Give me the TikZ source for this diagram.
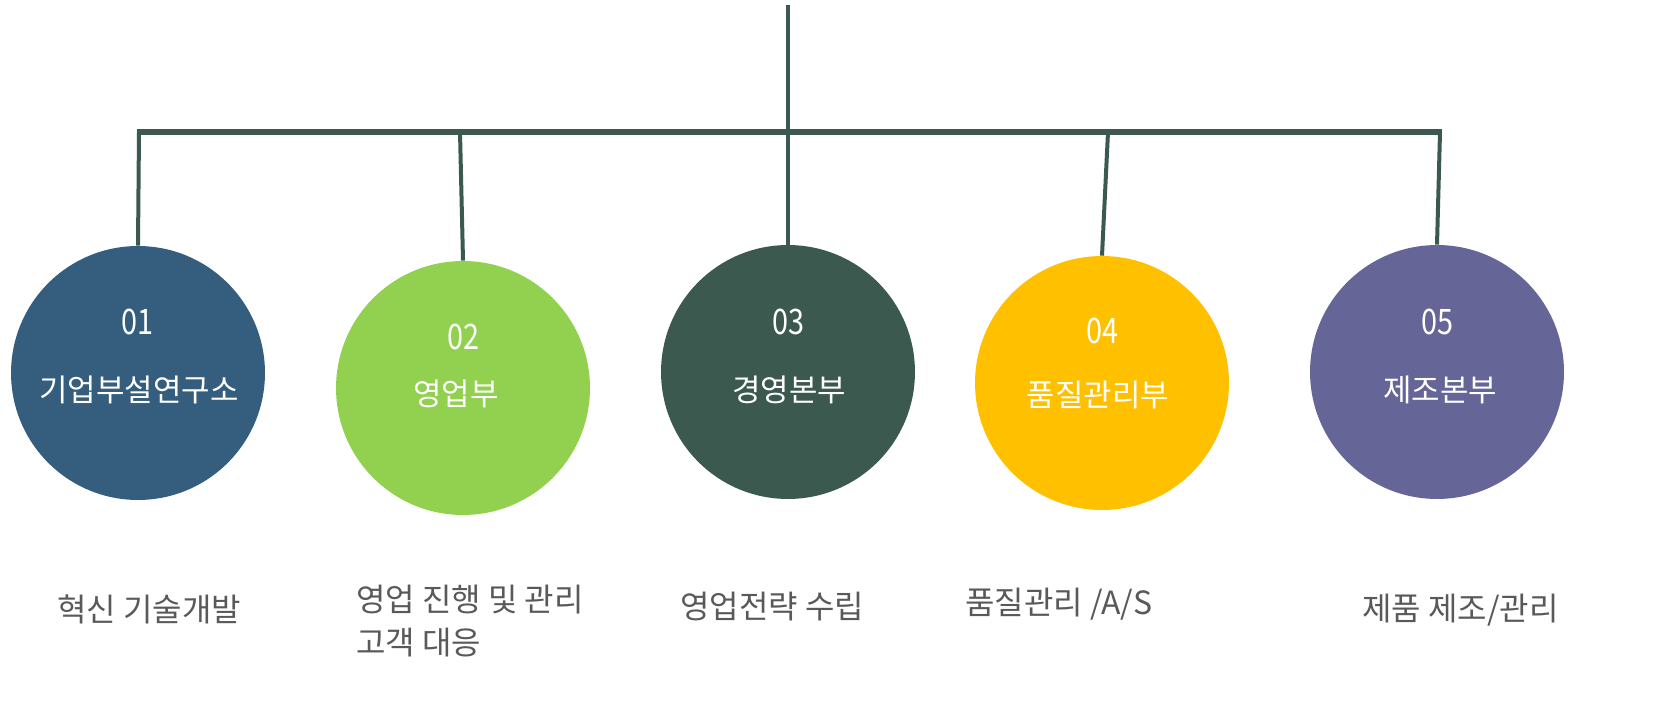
\documentclass[tikz,border=0pt]{standalone}
\usepackage{fontspec}
\setmainfont{Noto Sans CJK KR}
\newfontfamily\condfont[FakeStretch=0.82]{Noto Sans CJK KR}
\definecolor{lineC}{HTML}{3C5950}
\definecolor{cA}{HTML}{355E7E}
\definecolor{cB}{HTML}{92D050}
\definecolor{cC}{HTML}{3C5950}
\definecolor{cD}{HTML}{FFC000}
\definecolor{cE}{HTML}{656597}
\definecolor{txtG}{HTML}{595959}
\tikzset{
  disc/.style={circle, minimum size=5.08cm, inner sep=0pt, draw=none},
  num/.style={text=white, font=\condfont\fontsize{20}{22}\selectfont, inner sep=0pt},
  lbl/.style={text=white, font=\fontsize{17.6}{19}\selectfont, inner sep=0pt},
  desc/.style={text=txtG, font=\fontsize{18.2}{25}\selectfont, inner sep=0pt, anchor=west, align=left},
  conn/.style={draw=lineC, line width=0.08cm},
  bar/.style={draw=lineC, line width=0.12cm}
}
\begin{document}
\begin{tikzpicture}[x=0.02cm,y=-0.02cm]
\useasboundingbox (0,0) rectangle (1675,705);
% circles
\node[disc, fill=cA] (c1) at (138,373) {};
\node[disc, fill=cB] (c2) at (463,388) {};
\node[disc, fill=cC] (c3) at (788,372) {};
\node[disc, fill=cD] (c4) at (1102,383) {};
\node[disc, fill=cE] (c5) at (1437,372) {};
% numbers and labels
\node[num] (n1) at (137,322) {01};
\node[lbl] (l1) at (139,390) {기업부설연구소};
\node[num] (n2) at (463,337) {02};
\node[lbl] (l2) at (456,394) {영업부};
\node[num] (n3) at (788,322) {03};
\node[lbl] (l3) at (789,390) {경영본부};
\node[num] (n4) at (1102,331) {04};
\node[lbl] (l4) at (1098,395) {품질관리부};
\node[num] (n5) at (1437,322) {05};
\node[lbl] (l5) at (1440,390) {제조본부};
% connectors
\coordinate (top) at (788,5);
\coordinate (b1) at (139,132);
\coordinate (b2) at (460,132);
\coordinate (b3) at (788,132);
\coordinate (b4) at (1108,132);
\coordinate (b5) at (1440,132);
\coordinate (bL) at (137,132);
\coordinate (bR) at (1442,132);
\draw[bar] (bL) -- (bR);
\draw[conn] (top) -- (b3);
\draw[conn] (b1) -- (c1.north);
\draw[conn] (b2) -- (c2.north);
\draw[conn] (b3) -- (c3.north);
\draw[conn] (b4) -- (c4.north);
\draw[conn] (b5) -- (c5.north);
% descriptions
\node[desc] (d1) at (57,609) {혁신 기술개발};
\node[desc] (d2) at (356,621) {영업 진행 및 관리\\고객 대응};
\node[desc] (d3) at (680,607) {영업전략 수립};
\node[desc] (d4) at (965,604) {품질관리 /A/S};
\node[desc] (d5) at (1362,610) {제품 제조/관리};
\end{tikzpicture}
\end{document}
